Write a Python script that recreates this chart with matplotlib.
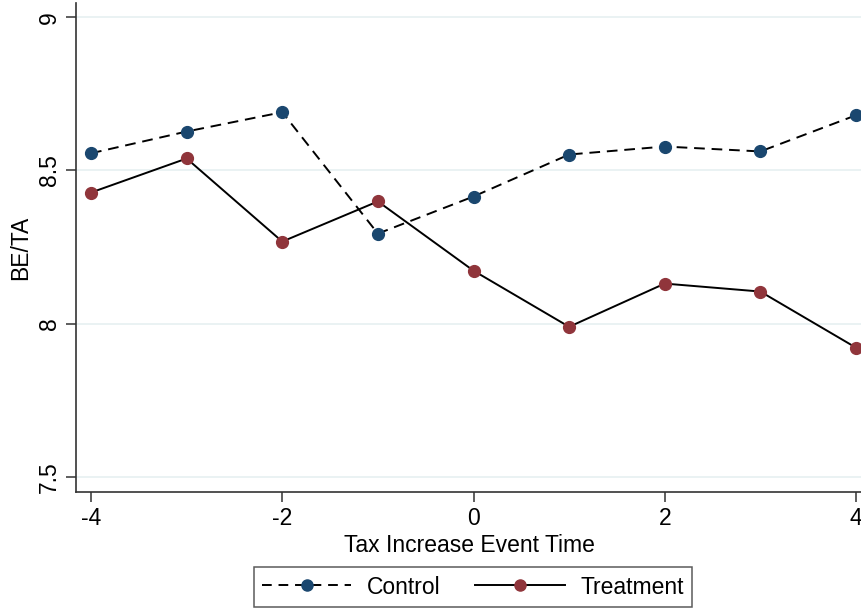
import matplotlib
matplotlib.use("Agg")
import matplotlib.pyplot as plt
from matplotlib.lines import Line2D

event_time = [-4, -3, -2, -1, 0, 1, 2, 3, 4]
control = [8.556, 8.627, 8.690, 8.294, 8.415, 8.552, 8.578, 8.562, 8.680]
treatment = [8.428, 8.539, 8.268, 8.399, 8.173, 7.990, 8.131, 8.105, 7.922]
x_ticks = [-4, -2, 0, 2, 4]
y_ticks = [7.5, 8, 8.5, 9]
y_tick_labels = ["7.5", "8", "8.5", "9"]

navy = "#1a476f"
maroon = "#90353b"
grid_col = "#eaf2f3"
fs = 16.5

plt.rcParams["font.family"] = ["Liberation Sans", "DejaVu Sans"]
plt.rcParams["font.size"] = fs

fig = plt.figure(figsize=(8.62, 6.12), dpi=100)
ax = fig.add_axes([0.0882, 0.196, 0.9118, 0.799])

ax.plot(event_time, control, color="black", lw=1.4, ls=(0, (5.5, 3.5)),
        marker="o", ms=8.5, mfc=navy, mec=navy, zorder=3)
ax.plot(event_time, treatment, color="black", lw=1.4, ls="-",
        marker="o", ms=8.5, mfc=maroon, mec=maroon, zorder=3)

ax.set_xlim(-4.157, 4.063)
ax.set_ylim(7.451, 9.046)
ax.set_xticks(x_ticks)
ax.set_xticklabels([str(t) for t in x_ticks])
ax.set_yticks(y_ticks)
ax.set_yticklabels(y_tick_labels, rotation=90, va="center")
for y in y_ticks:
    ax.axhline(y, color=grid_col, lw=1.4, zorder=1)

for side in ("top", "right"):
    ax.spines[side].set_visible(False)
for side in ("left", "bottom"):
    ax.spines[side].set_linewidth(1.2)
    ax.spines[side].set_color("#333333")
ax.tick_params(direction="out", length=7, width=1.1, color="#333333",
               labelsize=fs, pad=4)

ax.set_xlabel("Tax Increase Event Time", fontsize=fs, labelpad=3)
ax.set_ylabel("BE/TA", fontsize=fs, labelpad=4)

handles = [
    Line2D([], [], color="black", lw=1.4, ls=(0, (5, 3.5)), marker="o",
           ms=8, mfc=navy, mec=navy),
    Line2D([], [], color="black", lw=1.4, ls="-", marker="o",
           ms=8, mfc=maroon, mec=maroon),
]
leg = fig.legend(handles, ["Control", "Treatment"], loc="center",
                 bbox_to_anchor=(473 / 862, 1 - 587 / 612), ncol=2,
                 fontsize=fs, frameon=True, fancybox=False,
                 edgecolor="#333333", handlelength=3.9, columnspacing=1.5,
                 handletextpad=0.7, borderpad=0.35, borderaxespad=0)
leg.get_frame().set_linewidth(1.1)

fig.savefig("out.png", dpi=100)
